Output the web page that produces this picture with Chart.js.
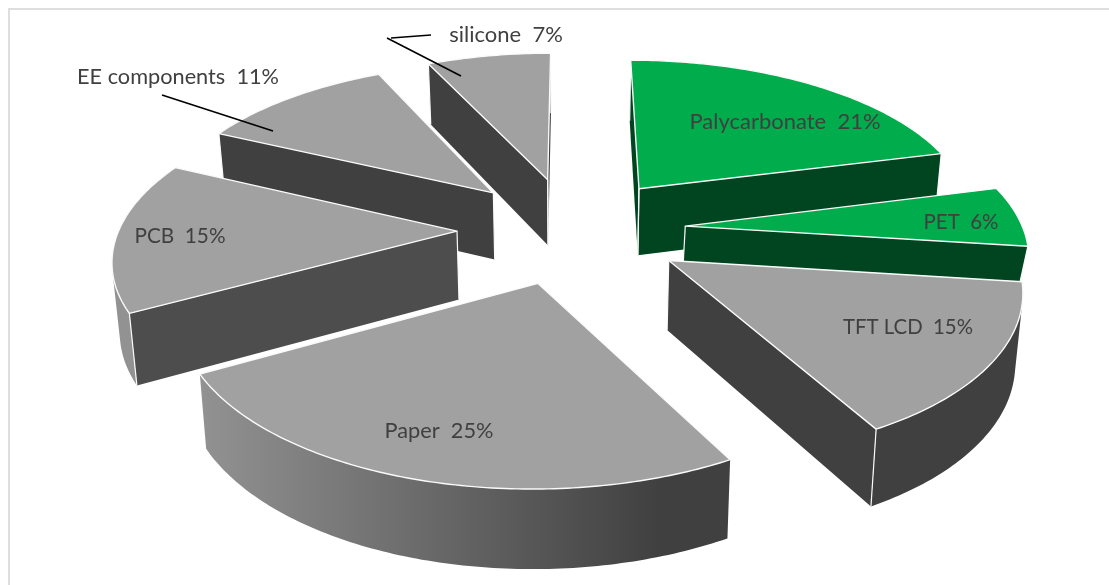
<!DOCTYPE html>
<html>
<head>
<meta charset="utf-8">
<style>
  html, body { margin: 0; background: #fff; }
  #frame {
    position: absolute;
    left: 8px;
    top: 8px;
    width: 1101px;
    height: 577px;
    box-sizing: border-box;
    border-left: 2px solid #dedede;
    border-top: 2px solid #dedede;
  }
  #chart { position: absolute; left: 0; top: 0; }
</style>
</head>
<body>
<div id="frame"></div>
<canvas id="chart" width="1109" height="585"></canvas>
<script src="https://cdn.jsdelivr.net/npm/chart.js@4"></script>
<script>
const materials = ["Palycarbonate", "PET", "TFT LCD", "Paper", "PCB", "EE components", "silicone"];
const shares = [21, 6, 15, 25, 15, 11, 7];

const topColors = ["#00ac4c", "#00ac4c", "#a1a1a1", "#a1a1a1", "#a1a1a1", "#a1a1a1", "#a1a1a1"];
const cutColors = ["#004520", "#004520", "#404040", "#404040", "#4d4d4d", "#404040", "#404040"];
const wallColors = ["#004520", "#004520", null, null, null, null, null]; // null: grey ramp
const thickness = [68, 35, 68, 68, 68, 68, 68];

const labelSpots = [[785, 122], [961, 222], [908, 327], [439, 431], [180, 236], [178, 77], [506, 35]];
const labelWidths = [191, 75, 130, 109, 91, 202, 114];
const leaderLines = [
  [[162, 95], [273, 131]],
  [[387, 38], [461, 76]],
  [[391, 38], [431, 35]],
];

// how the flat pie gets laid back into perspective
const TILT = 0.468;
const PERSPECTIVE = 0.00043;
const BOTTOM_SHRINK = 0.017;
const EDGE = "#fafafa";

function project(el, px, py, z, depth) {
  const s = 1 / (0.997 - py * PERSPECTIVE);
  const shrink = 1 - BOTTOM_SHRINK * (depth ? z / depth : 0);
  return {
    x: el.x + px * s * shrink,
    y: el.y + py * TILT * s * shrink + z * s,
  };
}

function signedArea(pts) {
  let sum = 0;
  pts.forEach((p, i) => {
    const q = pts[(i + 1) % pts.length];
    sum += p.x * q.y - q.x * p.y;
  });
  return sum;
}

function tracePath(ctx, pts) {
  ctx.beginPath();
  pts.forEach((p, i) => (i ? ctx.lineTo(p.x, p.y) : ctx.moveTo(p.x, p.y)));
  ctx.closePath();
}

function wallFill(ctx, i) {
  if (wallColors[i]) return wallColors[i];
  const ramp = ctx.createLinearGradient(200, 0, 660, 0);
  ramp.addColorStop(0, "#929292");
  ramp.addColorStop(1, "#404040");
  return ramp;
}

function drawSlice(ctx, el, i) {
  const depth = thickness[i];
  const mid = (el.startAngle + el.endAngle) / 2;
  const ox = Math.cos(mid) * el.options.offset;
  const oy = Math.sin(mid) * el.options.offset;
  const r = el.outerRadius;

  const at = (radius, angle, z) =>
    project(el, ox + Math.cos(angle) * radius, oy + Math.sin(angle) * radius, z, depth);

  const steps = Math.ceil((el.endAngle - el.startAngle) / 0.015);
  const rim = [];
  for (let k = 0; k <= steps; k++) {
    rim.push(el.startAngle + ((el.endAngle - el.startAngle) * k) / steps);
  }

  const apexTop = at(0, 0, 0);
  const apexBottom = at(0, 0, depth);
  const outline = [apexTop, ...rim.map((a) => at(r, a, 0))];
  const facing = Math.sign(signedArea(outline));
  const visible = (quad) => Math.sign(signedArea(quad)) === facing;

  // flat cut faces running in to the apex
  const cuts = [
    [at(r, rim[0], 0), apexTop, apexBottom, at(r, rim[0], depth)],
    [apexTop, at(r, rim[steps], 0), at(r, rim[steps], depth), apexBottom],
  ];
  cuts.forEach((quad) => {
    if (!visible(quad)) return;
    ctx.fillStyle = cutColors[i];
    tracePath(ctx, quad);
    ctx.fill();
  });

  // curved outer wall: only the steps that face the viewer, as one shape
  const upper = [];
  const lower = [];
  for (let k = 0; k < steps; k++) {
    const quad = [
      at(r, rim[k + 1], 0),
      at(r, rim[k], 0),
      at(r, rim[k], depth),
      at(r, rim[k + 1], depth),
    ];
    if (!visible(quad)) continue;
    if (!upper.length) {
      upper.push(quad[1]);
      lower.push(quad[2]);
    }
    upper.push(quad[0]);
    lower.push(quad[3]);
  }
  if (upper.length) {
    ctx.fillStyle = wallFill(ctx, i);
    tracePath(ctx, [...upper, ...lower.reverse()]);
    ctx.fill();
  }

  // white corners between the faces
  ctx.strokeStyle = EDGE;
  ctx.lineWidth = 1.2;
  cuts.forEach((quad) => {
    if (!visible(quad)) return;
    [[quad[0], quad[3]], [quad[1], quad[2]]].forEach(([a, b]) => {
      ctx.beginPath();
      ctx.moveTo(a.x, a.y);
      ctx.lineTo(b.x, b.y);
      ctx.stroke();
    });
  });

  ctx.fillStyle = topColors[i];
  ctx.strokeStyle = EDGE;
  ctx.lineWidth = 1.4;
  ctx.lineJoin = "round";
  tracePath(ctx, outline);
  ctx.fill();
  ctx.stroke();
}

const pie3d = {
  id: "pie3d",
  // the library works out the angles, the painting happens here instead
  beforeDatasetDraw(chart, args) {
    const ctx = chart.ctx;
    const arcs = args.meta.data.map((el, i) => ({ el, i }));
    arcs.sort((a, b) => {
      const ya = Math.sin((a.el.startAngle + a.el.endAngle) / 2);
      const yb = Math.sin((b.el.startAngle + b.el.endAngle) / 2);
      return ya - yb;
    });
    ctx.save();
    arcs.forEach(({ el, i }) => drawSlice(ctx, el, i));
    ctx.restore();
    return false;
  },
  afterDatasetsDraw(chart) {
    const ctx = chart.ctx;
    ctx.save();

    ctx.strokeStyle = "#000";
    ctx.lineWidth = 1.6;
    leaderLines.forEach(([a, b]) => {
      ctx.beginPath();
      ctx.moveTo(a[0], a[1]);
      ctx.lineTo(b[0], b[1]);
      ctx.stroke();
    });

    ctx.fillStyle = "#404040";
    ctx.font = '22px Lato';
    ctx.textAlign = "center";
    ctx.textBaseline = "middle";
    materials.forEach((name, i) => {
      ctx.fillText(`${name}  ${shares[i]}%`, labelSpots[i][0], labelSpots[i][1], labelWidths[i]);
    });
    ctx.restore();
  },
};

new Chart(document.getElementById("chart"), {
  type: "pie",
  data: {
    labels: materials,
    datasets: [
      {
        data: shares,
        backgroundColor: topColors,
        borderColor: EDGE,
        radius: 337,
        offset: 114,
      },
    ],
  },
  options: {
    responsive: false,
    animation: false,
    events: [],
    layout: { padding: { left: 34, bottom: 126 } },
    plugins: {
      legend: { display: false },
      tooltip: { enabled: false },
    },
  },
  plugins: [pie3d],
});
</script>
</body>
</html>
